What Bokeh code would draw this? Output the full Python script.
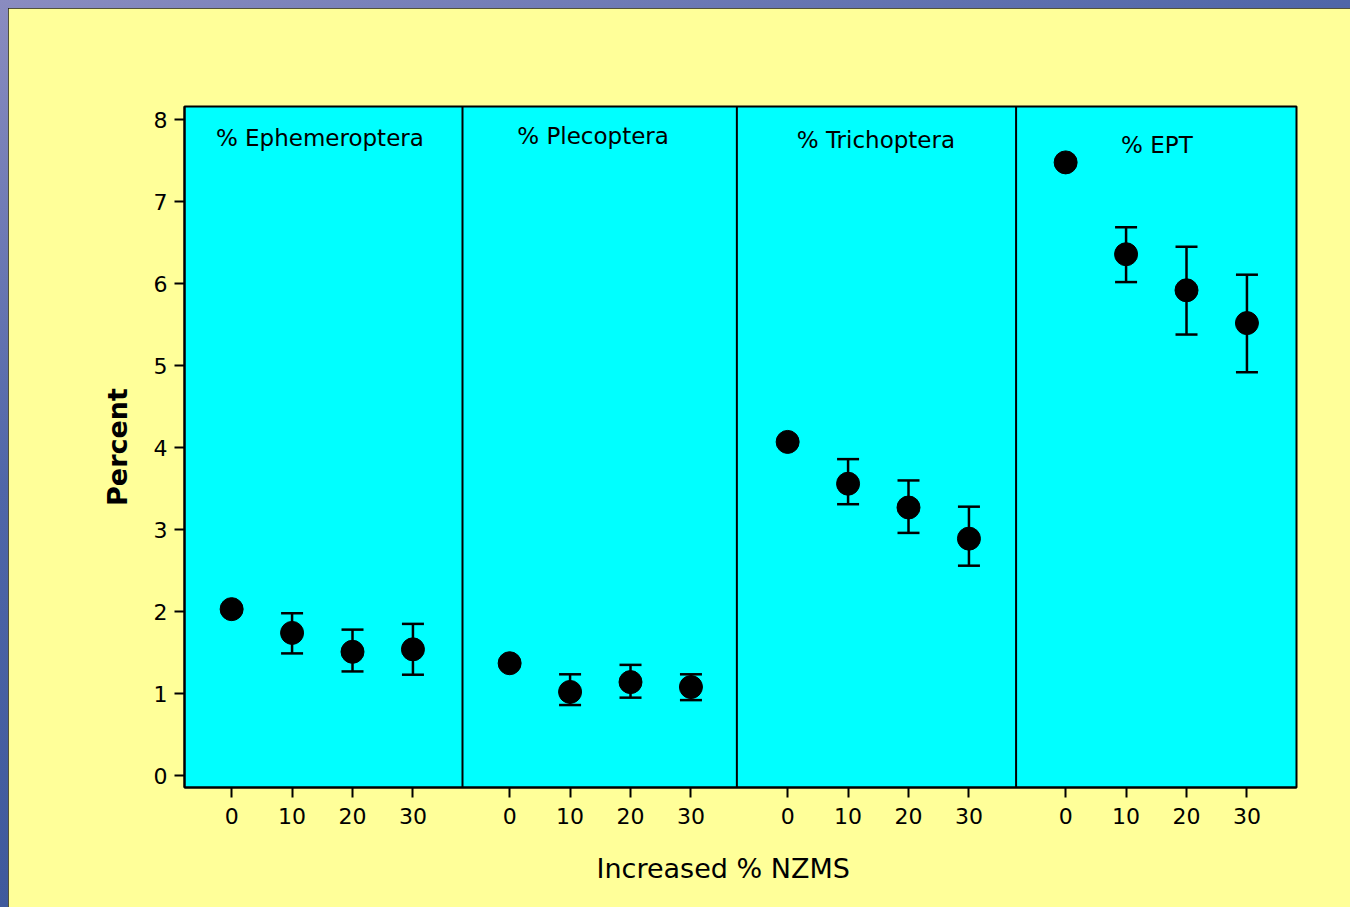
from bokeh.plotting import figure
from bokeh.models import (ColumnDataSource, Span, Whisker, TeeHead, FixedTicker,
                          Range1d, Title)
from bokeh.layouts import column
from bokeh.core.properties import value
from bokeh.embed import file_html
from bokeh.resources import INLINE

# ---------------- data ----------------
nzms = [0, 10, 20, 30]
taxa = ["% Ephemeroptera", "% Plecoptera", "% Trichoptera", "% EPT"]

eph_mean = [2.03, 1.74, 1.51, 1.54]
eph_upper = [None, 1.98, 1.78, 1.85]
eph_lower = [None, 1.49, 1.27, 1.23]

ple_mean = [1.37, 1.02, 1.14, 1.08]
ple_upper = [None, 1.235, 1.35, 1.235]
ple_lower = [None, 0.86, 0.95, 0.92]

tri_mean = [4.07, 3.56, 3.27, 2.89]
tri_upper = [None, 3.86, 3.60, 3.28]
tri_lower = [None, 3.31, 2.96, 2.56]

ept_mean = [7.48, 6.36, 5.92, 5.52]
ept_upper = [None, 6.69, 6.45, 6.11]
ept_lower = [None, 6.02, 5.38, 4.92]

y_ticks = [0, 1, 2, 3, 4, 5, 6, 7, 8]

means = [eph_mean, ple_mean, tri_mean, ept_mean]
uppers = [eph_upper, ple_upper, tri_upper, ept_upper]
lowers = [eph_lower, ple_lower, tri_lower, ept_lower]

# ---------------- layout constants ----------------
PANEL_W = 46          # x-units per panel
X_MIN = -7.8
X_MAX = X_MIN + 4 * PANEL_W
divider_local = [38.2, 37.6, 37.8]   # divider position within the preceding panel
title_y = [7.78, 7.80, 7.75, 7.69]
title_local_x = [14.6, 13.8, 14.6, 15.1]

YELLOW = "#FFFF99"
CYAN = "#00FFFF"
FONT = "DejaVu Sans"

# ---------------- build sources ----------------
px, py = [], []
wx, wu, wl = [], [], []
for i in range(4):
    for j, n in enumerate(nzms):
        x = i * PANEL_W + n
        px.append(x)
        py.append(means[i][j])
        if uppers[i][j] is not None:
            wx.append(x)
            wu.append(uppers[i][j])
            wl.append(lowers[i][j])

pts = ColumnDataSource(dict(x=px, y=py))
err = ColumnDataSource(dict(x=wx, upper=wu, lower=wl))
ttl = ColumnDataSource(dict(x=[i * PANEL_W + title_local_x[i] for i in range(4)],
                            y=title_y, text=taxa))

p = figure(width=1342, height=899, output_backend="svg", toolbar_location=None,
           x_range=Range1d(X_MIN, X_MAX), y_range=Range1d(-0.146, 8.162),
           min_border_left=176, min_border_top=98, min_border_right=54,
           min_border_bottom=120)
p.background_fill_color = CYAN
p.border_fill_color = YELLOW
p.outline_line_color = "black"
p.outline_line_width = 2
p.xgrid.visible = False
p.ygrid.visible = False

# panel dividers
for i in range(3):
    p.add_layout(Span(location=i * PANEL_W + divider_local[i], dimension="height",
                      line_color="black", line_width=2))

# error bars
p.add_layout(Whisker(source=err, base="x", upper="upper", lower="lower",
                     line_color="black", line_width=2.5,
                     upper_head=TeeHead(size=22, line_width=2.5, line_color="black"),
                     lower_head=TeeHead(size=22, line_width=2.5, line_color="black"),
                     level="glyph"))

# points
p.scatter("x", "y", source=pts, size=23, fill_color="black", line_color="black")

# panel titles
p.text("x", "y", text="text", source=ttl, text_font=value(FONT),
       text_font_size="23px", text_align="center", text_baseline="middle",
       text_color="black")

# axes
tick_pos = [i * PANEL_W + n for i in range(4) for n in nzms]
p.xaxis.ticker = FixedTicker(ticks=tick_pos)
p.xaxis.major_label_overrides = {i * PANEL_W + n: str(n) for i in range(4) for n in nzms}
p.yaxis.ticker = FixedTicker(ticks=y_ticks)
for ax in (p.xaxis[0], p.yaxis[0]):
    ax.axis_line_color = "black"
    ax.axis_line_width = 2
    ax.major_tick_line_color = "black"
    ax.major_tick_line_width = 2
    ax.major_tick_out = 10
    ax.major_tick_in = 0
    ax.minor_tick_line_color = None
    ax.major_label_text_font = FONT
    ax.major_label_text_font_size = "22px"
    ax.major_label_text_color = "black"
p.xaxis.major_label_standoff = 10
p.yaxis.major_label_standoff = 7

p.yaxis.axis_label = "Percent"
p.yaxis.axis_label_text_font = FONT
p.yaxis.axis_label_text_font_size = "27px"
p.yaxis.axis_label_text_font_style = "bold"
p.yaxis.axis_label_text_color = "black"
p.yaxis.axis_label_standoff = 18

# x-axis title (a below-panel Title so it can sit left of the frame centre)
xt = Title(text="Increased % NZMS", align="left", offset=412, standoff=48,
           text_font=FONT, text_font_size="27px", text_font_style="normal",
           text_color="black")
p.add_layout(xt, "below")

inner = column(p, margin=(2, 0, 0, 2), styles={"background-color": "#1a1a1a"})
layout = column(inner, margin=(0, 0, 0, 0),
                styles={"background": "linear-gradient(160deg, #8a8cc0 0%, #4f66a8 35%, #2c4a8e 100%)",
                        "padding-left": "6px", "padding-top": "6px"})

open("out.html", "w").write(file_html(layout, INLINE))
